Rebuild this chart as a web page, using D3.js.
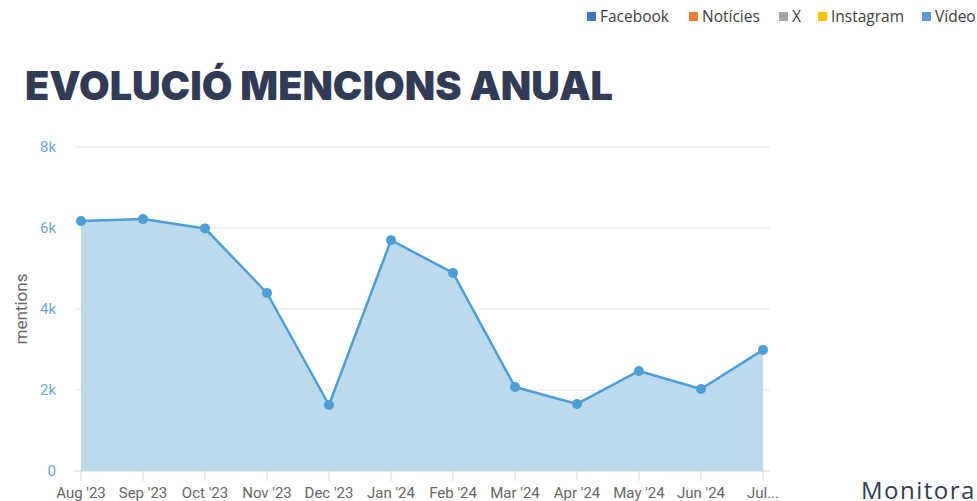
<!DOCTYPE html>
<html>
<head>
<meta charset="utf-8">
<script src="https://cdn.jsdelivr.net/npm/d3@7"></script>
<style>
  body { margin: 0; background: #fff; overflow: hidden; }
  svg { display: block; }
</style>
</head>
<body>
<svg id="chart" width="977" height="501"></svg>
<script>
const months = ["Aug '23", "Sep '23", "Oct '23", "Nov '23", "Dec '23", "Jan '24",
  "Feb '24", "Mar '24", "Apr '24", "May '24", "Jun '24", "Jul..."];
const mentions = [6170, 6220, 5990, 4395, 1630, 5700, 4890, 2075, 1655, 2470, 2025, 2990];
const yTicks = [0, 2000, 4000, 6000, 8000];
const legendNames = ["Facebook", "Notícies", "X", "Instagram", "Vídeo"];
const legendColors = ["#4472c4", "#ed7d31", "#a5a5a5", "#ffc000", "#5b9bd5"];

const svg = d3.select("#chart");

const x = d3.scalePoint().domain(months).range([81, 763]);
const y = d3.scaleLinear().domain([0, 8000]).range([471, 147]);

// gridlines
svg.append("g")
  .selectAll("line")
  .data(yTicks.filter(d => d > 0))
  .join("line")
  .attr("x1", 75).attr("x2", 770)
  .attr("y1", d => y(d)).attr("y2", d => y(d))
  .attr("stroke", "#e6e6e6").attr("stroke-width", 1);

// area + line
const area = d3.area().x((d, i) => x(months[i])).y0(y(0)).y1(d => y(d));
const line = d3.line().x((d, i) => x(months[i])).y(d => y(d));

svg.append("path").datum(mentions)
  .attr("d", area).attr("fill", "#bcd9ee");

svg.append("path").datum(mentions)
  .attr("d", line).attr("fill", "none")
  .attr("stroke", "#4b9fd6").attr("stroke-width", 2.5)
  .attr("stroke-linejoin", "round");

svg.append("g").selectAll("circle")
  .data(mentions)
  .join("circle")
  .attr("cx", (d, i) => x(months[i]))
  .attr("cy", d => y(d))
  .attr("r", 5)
  .attr("fill", "#4b9fd6");

// x axis
const xAxis = svg.append("g").attr("transform", `translate(0,${y(0)})`);
xAxis.append("line").attr("x1", 75).attr("x2", 770)
  .attr("stroke", "#ccd6eb");
xAxis.selectAll(".tick")
  .data(months)
  .join("line")
  .attr("x1", d => x(d)).attr("x2", d => x(d))
  .attr("y1", 0).attr("y2", 10)
  .attr("stroke", "#ccd6eb");
xAxis.selectAll("text")
  .data(months)
  .join("text")
  .attr("x", d => x(d))
  .attr("y", 27)
  .attr("text-anchor", "middle")
  .attr("font-family", "Roboto, sans-serif")
  .attr("font-size", 15)
  .attr("fill", "#666666")
  .text(d => d);

// y labels
svg.append("g").selectAll("text")
  .data(yTicks)
  .join("text")
  .attr("x", 56)
  .attr("y", d => y(d) + 5)
  .attr("text-anchor", "end")
  .attr("font-family", "Roboto, sans-serif")
  .attr("font-size", 15)
  .attr("fill", "#6ca7dd")
  .text(d => d === 0 ? "0" : d / 1000 + "k");

svg.append("text")
  .attr("transform", `translate(27,${y(4000)}) rotate(-90)`)
  .attr("text-anchor", "middle")
  .attr("font-family", "Roboto, sans-serif")
  .attr("font-size", 17)
  .attr("fill", "#666666")
  .text("mentions");

// title
svg.append("text")
  .attr("x", 25).attr("y", 100)
  .attr("font-family", "Inter, 'Open Sans', sans-serif")
  .attr("font-weight", 900)
  .attr("font-size", 40)
  .attr("textLength", 588)
  .attr("lengthAdjust", "spacingAndGlyphs")
  .attr("fill", "#313b55")
  .text("EVOLUCIÓ MENCIONS ANUAL");

// legend
const legendX = [587, 689, 779, 818, 922];
const legend = svg.append("g").selectAll("g")
  .data(legendNames)
  .join("g")
  .attr("transform", (d, i) => `translate(${legendX[i]},12)`);
legend.append("rect")
  .attr("width", 9).attr("height", 9)
  .attr("fill", (d, i) => legendColors[i]);
legend.append("text")
  .attr("x", 13).attr("y", 10)
  .attr("font-family", "'Open Sans', sans-serif")
  .attr("font-size", 15.5)
  .attr("fill", "#404040")
  .text(d => d);

// footer brand text (cut off at the right edge, as in the source)
svg.append("text")
  .attr("x", 861).attr("y", 499)
  .attr("font-family", "'Open Sans', sans-serif")
  .attr("font-size", 24)
  .attr("letter-spacing", 1.5)
  .attr("fill", "#313b55")
  .text("Monitora");
</script>
</body>
</html>
